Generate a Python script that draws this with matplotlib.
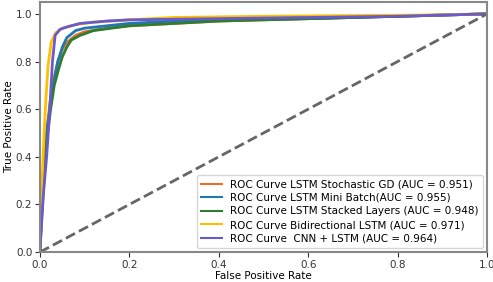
import matplotlib
matplotlib.use('Agg')
import matplotlib.pyplot as plt

# ROC points (fpr, tpr)
sgd_fpr = [0, 0.002, 0.008, 0.015, 0.022, 0.03, 0.04, 0.05, 0.06, 0.08, 0.1, 0.15, 0.2, 0.3, 0.4, 0.6, 0.8, 1.0]
sgd_tpr = [0, 0.1, 0.3, 0.5, 0.62, 0.72, 0.8, 0.85, 0.88, 0.91, 0.925, 0.94, 0.95, 0.96, 0.97, 0.98, 0.99, 1.0]

mini_fpr = [0, 0.003, 0.008, 0.015, 0.022, 0.03, 0.04, 0.05, 0.06, 0.08, 0.1, 0.15, 0.2, 0.3, 0.4, 0.6, 0.8, 1.0]
mini_tpr = [0, 0.15, 0.35, 0.5, 0.6, 0.7, 0.8, 0.86, 0.9, 0.93, 0.94, 0.95, 0.96, 0.97, 0.975, 0.98, 0.99, 1.0]

stack_fpr = [0, 0.003, 0.009, 0.016, 0.024, 0.032, 0.042, 0.05, 0.06, 0.07, 0.09, 0.12, 0.2, 0.3, 0.4, 0.6, 0.8, 1.0]
stack_tpr = [0, 0.12, 0.3, 0.48, 0.6, 0.7, 0.77, 0.82, 0.86, 0.89, 0.91, 0.93, 0.95, 0.96, 0.97, 0.98, 0.99, 1.0]

bi_fpr = [0, 0.001, 0.003, 0.007, 0.012, 0.018, 0.025, 0.035, 0.05, 0.08, 0.12, 0.2, 0.3, 0.5, 0.7, 0.85, 1.0]
bi_tpr = [0, 0.1, 0.2, 0.4, 0.6, 0.78, 0.88, 0.92, 0.94, 0.955, 0.965, 0.975, 0.985, 0.99, 0.993, 0.995, 1.0]

cnn_fpr = [0, 0.003, 0.008, 0.015, 0.022, 0.028, 0.034, 0.045, 0.06, 0.09, 0.15, 0.2, 0.4, 0.6, 0.8, 1.0]
cnn_tpr = [0, 0.1, 0.25, 0.4, 0.6, 0.8, 0.91, 0.935, 0.945, 0.96, 0.97, 0.975, 0.98, 0.985, 0.99, 1.0]

labels = ['ROC Curve LSTM Stochastic GD (AUC = 0.951)',
          'ROC Curve LSTM Mini Batch(AUC = 0.955)',
          'ROC Curve LSTM Stacked Layers (AUC = 0.948)',
          'ROC Curve Bidirectional LSTM (AUC = 0.971)',
          'ROC Curve  CNN + LSTM (AUC = 0.964)']

plt.rcParams['font.size'] = 7.5

fig = plt.figure(figsize=(4.93, 2.82), dpi=100)
ax = fig.add_axes([0.081, 0.106, 0.907, 0.887])

ax.plot(sgd_fpr, sgd_tpr, color='#e8702a', lw=2, label=labels[0])
ax.plot(mini_fpr, mini_tpr, color='#1f77b4', lw=2, label=labels[1])
ax.plot(stack_fpr, stack_tpr, color='#2e7d32', lw=2, label=labels[2])
ax.plot(bi_fpr, bi_tpr, color='#ffc000', lw=2, label=labels[3])
ax.plot(cnn_fpr, cnn_tpr, color='#6a5acd', lw=2, label=labels[4])
ax.plot([0, 1], [0, 1], color='#666666', lw=2, linestyle='--')

ax.set_xlim(0, 1)
ax.set_ylim(0, 1.05)
ax.set_xlabel('False Positive Rate', labelpad=1)
ax.set_ylabel('True Positive Rate', labelpad=1)
for s in ax.spines.values():
    s.set_color('#888888')
    s.set_linewidth(1.5)
ax.tick_params(colors='#333333', pad=2)

leg = ax.legend(loc='lower right', fontsize=7.5, labelspacing=0.35,
                borderaxespad=0.4)
for h in leg.get_lines():
    h.set_linewidth(1.5)

fig.savefig('out.png', dpi=100)
